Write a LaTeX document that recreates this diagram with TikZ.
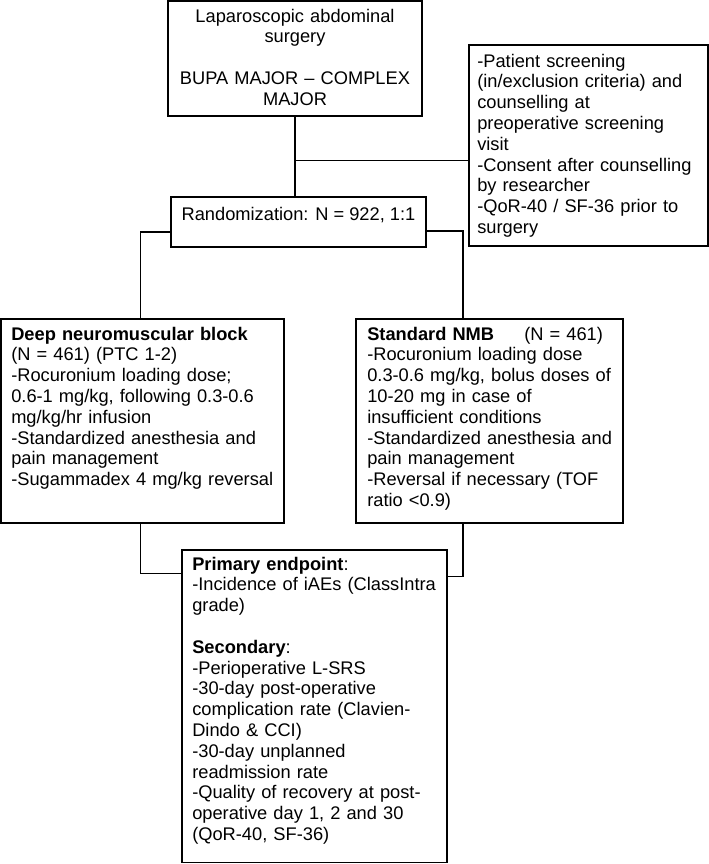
\documentclass[tikz,border=0pt]{standalone}
\usepackage{fontspec}
\setmainfont{Liberation Sans}
\usetikzlibrary{fit,calc}

\begin{document}
\begin{tikzpicture}[x=0.75pt,y=-0.75pt,
    font=\fontsize{13.7pt}{15.6pt}\selectfont,
    box/.style={draw,line width=1.2pt,inner sep=0pt},
    txt/.style={anchor=base west,align=left,text width=250pt,inner sep=0pt},
    link/.style={line width=1pt}]
    \useasboundingbox (0,0) rectangle (709,864);

    % boxes
    \node[box,fit={(168,0.8) (422,116)}] (surgery) {};
    \node[box,fit={(469,45) (708,246)}] (screening) {};
    \node[box,fit={(171,197) (426,247)}] (rand) {Randomization: N = 922, 1:1};
    \node[box,fit={(0.8,319) (284,523)}] (deep) {};
    \node[box,fit={(356,319) (623,523)}] (standard) {};
    \node[box,fit={(182,550) (447,862.5)}] (primary) {};

    % texts
    \node[txt,anchor=base,align=center] (surgerytext) at (295,22)
	{Laparoscopic abdominal\\ surgery\\[15.6pt] BUPA MAJOR -- COMPLEX\\ MAJOR};
    \node[txt] (screeningtext) at (477,67)
	{-Patient screening\\ (in/exclusion criteria) and\\ counselling at\\
	 preoperative screening\\ visit\\ -Consent after counselling\\
	 by researcher\\ -QoR-40 / SF-36 prior to\\ surgery};
    \node[txt] (deeptext) at (11,340)
	{\textbf{Deep neuromuscular block}\\ (N = 461) (PTC 1-2)\\
	 -Rocuronium loading dose;\\ 0.6-1 mg/kg, following 0.3-0.6\\
	 mg/kg/hr infusion\\ -Standardized anesthesia and\\
	 pain management\\ -Sugammadex 4 mg/kg reversal};
    \node[txt] (standardtext) at (367,340)
	{\makebox[117.75pt][l]{\textbf{Standard NMB}}(N = 461)\\
	 -Rocuronium loading dose\\ 0.3-0.6 mg/kg, bolus doses of\\
	 10-20 mg in case of\\ insufficient conditions\\
	 -Standardized anesthesia and\\ pain management\\
	 -Reversal if necessary (TOF\\ ratio <0.9)};
    \node[txt] (primarytext) at (192,570)
	{\textbf{Primary endpoint}:\\ -Incidence of iAEs (ClassIntra\\ grade)\\[15.6pt]
	 \textbf{Secondary}:\\ -Perioperative L-SRS\\ -30-day post-operative\\
	 complication rate (Clavien-\\ Dindo \& CCI)\\ -30-day unplanned\\
	 readmission rate\\ -Quality of recovery at post-\\
	 operative day 1, 2 and 30\\ (QoR-40, SF-36)};

    % connectors
    \coordinate (branch) at ($(surgery.south)+(0,44)$);
    \draw[link] (surgery.south) -- (surgery.south |- rand.north);
    \draw[link] (branch) -- (branch -| screening.west);
    \draw[link] ($(rand.west)+(0,10)$) -| ($(deep.north)+(-2,0)$);
    \draw[link] ($(rand.east)+(0,9)$) -| ($(standard.north)+(-26.5,0)$);
    \draw[link] ($(deep.south)+(-2,0)$) |- ($(primary.north west)+(0,24)$);
    \draw[link] ($(standard.south)+(-26.5,0)$) |- ($(primary.north east)+(0,27)$);
\end{tikzpicture}
\end{document}
